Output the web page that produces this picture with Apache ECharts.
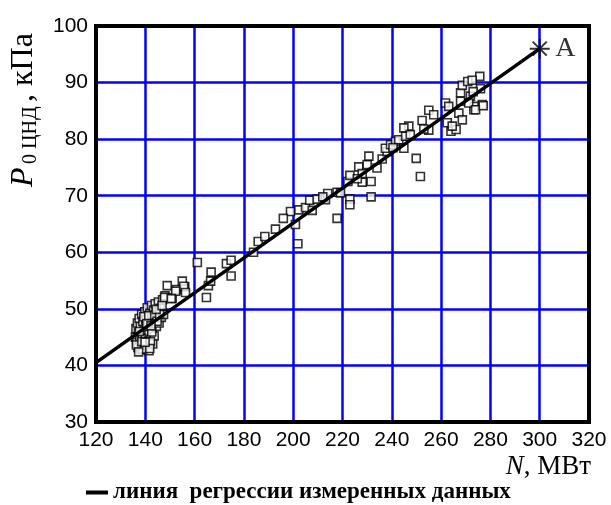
<!DOCTYPE html>
<html>
<head>
<meta charset="utf-8">
<script src="https://cdn.jsdelivr.net/npm/echarts@6/dist/echarts.min.js"></script>
<style>html,body{margin:0;padding:0;background:#fff}#c{width:611px;height:505px}</style>
</head>
<body>
<div id="c"></div>
<script>
// Measured data: power N (MW) and pressure P0 (kPa)
const powerMW = [
  136.0,136.2,136.5,136.8,137.0,137.2,137.5,137.8,138.0,138.2,138.5,138.8,139.0,139.2,139.5,139.8,
  140.0,140.2,140.5,140.8,141.0,141.2,141.5,141.8,142.0,142.2,142.5,142.8,143.0,143.3,143.6,144.0,
  144.2,144.5,145.0,145.3,145.6,146.0,146.5,147.0,147.4,148.0,141.5,139.0,143.0,142.1,141.8,
  136.4,137.6,138.6,139.4,140.6,141.4,142.6,143.8,144.8,145.8,137.3,139.9,142.3,144.4,146.8,
  147.8,150.9,148.9,152.7,156.0,155.0,155.6,152.3,150.5,156.3,161.1,164.8,165.6,166.5,166.7,
  172.9,174.8,174.8,183.9,185.8,188.5,192.8,200.9,201.9,198.9,202.3,205.0,207.7,206.7,209.7,
  213.1,214.0,217.8,219.2,217.8,223.0,223.0,222.2,223.0,226.6,228.0,231.6,231.6,230.0,230.7,
  234.0,236.1,238.1,228.0,237.4,239.5,241.5,242.8,244.9,245.6,246.9,244.9,251.6,249.9,252.3,
  255.0,255.0,253.0,257.0,261.8,263.1,262.5,264.0,266.1,264.5,267.2,268.6,267.9,267.9,268.6,
  270.8,275.7,271.9,273.5,276.7,273.3,276.0,271.2,272.6,274.0,277.1,273.0,240.5,247.5,
  226.0,212.0,196.0
];
const pressureKPa = [
  45.0,46.5,44.0,47.5,43.2,45.8,48.3,44.5,46.9,42.8,49.0,45.3,47.8,43.8,46.2,49.5,
  44.8,48.1,46.8,50.2,43.5,47.3,45.5,49.2,44.6,48.7,50.6,46.0,47.6,49.8,45.2,50.9,
  48.2,46.9,49.4,51.2,47.5,50.1,48.5,51.6,49.0,52.3,42.6,42.9,43.8,44.2,43.0,
  43.6,46.0,44.2,48.6,47.4,48.8,45.9,48.9,47.8,49.0,42.4,44.1,47.0,49.9,50.6,
  52.0,51.9,54.1,53.4,53.9,54.9,54.0,53.1,51.8,52.9,58.2,52.0,54.1,54.9,56.5,
  58.0,58.6,55.8,60.0,61.9,62.8,64.1,64.9,61.5,67.2,67.5,67.9,67.4,69.2,69.4,
  69.3,70.4,70.6,70.5,66.0,69.4,68.4,72.5,73.6,75.1,72.4,72.5,69.8,75.5,77.0,
  74.9,76.5,77.8,73.9,78.4,79.0,79.6,79.9,78.4,80.5,82.3,82.0,73.4,76.6,83.3,
  85.1,81.6,81.8,84.3,86.4,85.8,82.9,81.4,81.7,82.3,84.6,83.4,86.7,88.2,89.5,
  90.2,91.1,87.6,85.8,86.1,85.2,88.9,86.4,90.4,85.2,85.9,88.4,78.5,80.8,
  73.0,69.8,66.0
];
// Regression line endpoints and point A
const regressionN = [120, 300];
const regressionP = [40.5, 96.0];
const pointA = [300, 96.0];
const xTicks = {min: 120, max: 320, step: 20};
const yTicks = {min: 30, max: 100, step: 10};
const legendName = 'линия  регрессии измеренных данных';

const chart = echarts.init(document.getElementById('c'), null, {renderer: 'canvas'});
const scatterData = powerMW.map((x, i) => [x, pressureKPa[i]]);
const lineData = regressionN.map((x, i) => [x, regressionP[i]]);

const blue = '#0000ff';
const axisCommon = {
  axisLine: {show: false},
  axisTick: {show: false},
  splitLine: {show: true, showMinLine: false, showMaxLine: false, lineStyle: {color: blue, width: 2.5}},
  axisLabel: {color: '#000', fontSize: 21, fontFamily: 'Liberation Sans'}
};

chart.setOption({
  animation: false,
  backgroundColor: '#fff',
  grid: {left: 96, top: 26, width: 493, height: 396, show: true, borderColor: '#000', borderWidth: 4, backgroundColor: 'transparent', z: 3},
  xAxis: Object.assign({type: 'value', min: xTicks.min, max: xTicks.max, interval: xTicks.step}, axisCommon,
    {axisLabel: Object.assign({}, axisCommon.axisLabel, {margin: 8})}),
  yAxis: Object.assign({type: 'value', min: yTicks.min, max: yTicks.max, interval: yTicks.step}, axisCommon,
    {axisLabel: Object.assign({}, axisCommon.axisLabel, {margin: 8})}),
  legend: {
    data: [{name: legendName, icon: 'rect'}],
    left: 86, top: 481, padding: 0,
    itemWidth: 22, itemHeight: 4,
    textStyle: {color: '#000', fontFamily: 'Liberation Serif', fontWeight: 'bold', fontSize: 23}
  },
  series: [
    {
      type: 'scatter', data: scatterData, symbol: 'rect', symbolSize: 8,
      itemStyle: {color: '#fff', borderColor: '#000', borderWidth: 1.6}, z: 2
    },
    {
      name: legendName, type: 'line', data: lineData, showSymbol: false, symbol: 'none',
      lineStyle: {color: '#000', width: 3.5}, itemStyle: {color: '#000'}, z: 4
    },
    {
      type: 'scatter', data: [pointA], z: 5,
      symbol: 'path://M0,-10L0,10M-10,0L10,0M-7,-7L7,7M-7,7L7,-7', symbolSize: 20,
      itemStyle: {color: 'none', borderColor: '#000', borderWidth: 2},
      label: {show: true, position: 'right', distance: 3, formatter: 'A', color: '#000', fontFamily: 'Liberation Serif', fontSize: 28}
    }
  ],
  graphic: [
    {
      type: 'group', x: 33, y: 187, rotation: Math.PI / 2,
      children: [
        {type: 'text', x: 0, y: 7, style: {text: 'P', font: 'italic 32px "Liberation Serif"', fill: '#000', textAlign: 'left', textVerticalAlign: 'bottom'}},
        {type: 'text', x: 23, y: 7.5, style: {text: '0 ЦНД', font: '20px "Liberation Serif"', fill: '#000', textAlign: 'left', textVerticalAlign: 'bottom'}},
        {type: 'text', x: 85, y: 7, style: {text: ', кПа', font: '32px "Liberation Serif"', fill: '#000', textAlign: 'left', textVerticalAlign: 'bottom'}}
      ]
    },
    {
      type: 'text', right: 20, top: 453,
      style: {text: '{i|N}{r|, МВт}', fill: '#000', rich: {
        i: {fontFamily: 'Liberation Serif', fontStyle: 'italic', fontSize: 27, color: '#000'},
        r: {fontFamily: 'Liberation Serif', fontSize: 27, color: '#000'}
      }}
    }
  ]
});
</script>
</body>
</html>
